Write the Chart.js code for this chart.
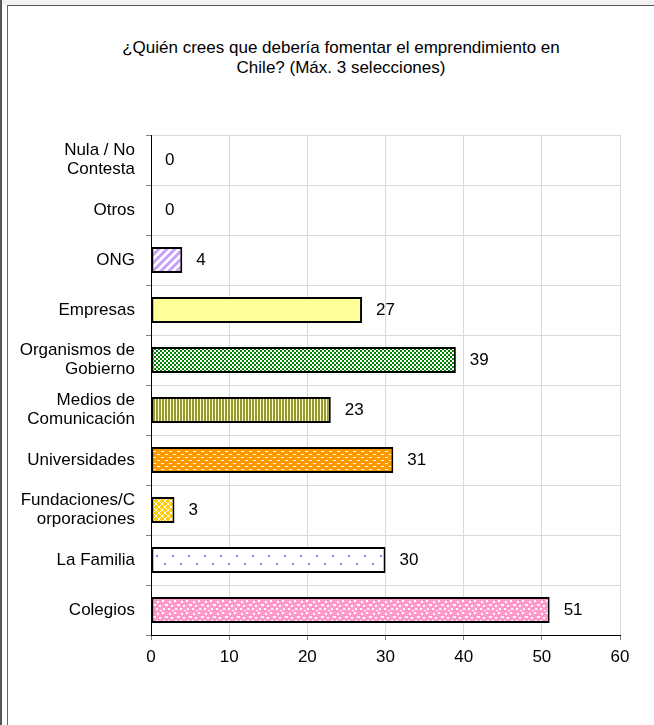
<!DOCTYPE html>
<html>
<head>
<meta charset="utf-8">
<script src="https://cdn.jsdelivr.net/npm/chart.js@4.4.1/dist/chart.umd.min.js"></script>
<style>
body { margin: 0; background: #fff; }
#wrap { position: relative; width: 654px; height: 725px; overflow: hidden; }
.ln { position: absolute; }
canvas { position: absolute; left: 0; top: 0; }
#titulo { position: absolute; left: 41px; width: 600px; top: 38px; text-align: center;
          font: 17px/20px 'Liberation Sans', Arial, sans-serif; color: #000; }
</style>
</head>
<body>
<div id="wrap">
  <div class="ln" style="left:0;top:0;width:2px;height:725px;background:#555"></div>
  <div class="ln" style="left:2px;top:0;width:652px;height:5px;background:#f2f2f2"></div>
  <div class="ln" style="left:7px;top:5px;width:647px;height:1px;background:#555"></div>
  <div class="ln" style="left:7px;top:5px;width:1px;height:720px;background:#666"></div>
  <div id="titulo"></div>
  <canvas id="chart" width="654" height="725"></canvas>
</div>
<script>
var Categorias = [["Nula / No", "Contesta"], "Otros", "ONG", "Empresas", ["Organismos de", "Gobierno"],
                  ["Medios de", "Comunicación"], "Universidades", ["Fundaciones/C", "orporaciones"], "La Familia", "Colegios"];
var Valores = [0, 0, 4, 27, 39, 23, 31, 3, 30, 51];
var Ticks = [0, 10, 20, 30, 40, 50, 60];
var Titulo = ["¿Quién crees que debería fomentar el emprendimiento en", "Chile? (Máx. 3 selecciones)"];

document.getElementById("titulo").innerHTML = Titulo.join("<br>");

Chart.defaults.font.family = "'Liberation Sans', Arial, sans-serif";
Chart.defaults.font.size = 17;
Chart.defaults.color = "#000";

var ctx = document.getElementById("chart").getContext("2d");

// little tiles used as fill patterns (Excel style)
function trama(w, h, fondo, color, dibujo) {
  var c = document.createElement("canvas");
  c.width = w; c.height = h;
  var g = c.getContext("2d");
  g.fillStyle = fondo; g.fillRect(0, 0, w, h);
  g.fillStyle = color; g.strokeStyle = color;
  dibujo(g);
  return ctx.createPattern(c, "repeat");
}

var Rellenos = [
  "#ffffff",
  "#ffffff",
  trama(8, 8, "#ffffff", "#c8a0f8", function (g) {
    g.lineWidth = 3;
    g.beginPath();
    g.moveTo(-2, 10); g.lineTo(10, -2);
    g.moveTo(-6, 6); g.lineTo(6, -6);
    g.moveTo(2, 14); g.lineTo(14, 2);
    g.stroke();
  }),
  "#ffff99",
  trama(4, 4, "#008000", "#ffffff", function (g) {
    g.fillRect(0, 0, 2, 2);
    g.fillRect(2, 2, 2, 2);
  }),
  trama(3, 1, "#ffffcc", "#999933", function (g) {
    g.fillRect(0, 0, 2, 1);
  }),
  trama(8, 6, "#ff9900", "#ffffff", function (g) {
    g.fillRect(1, 1, 3, 1);
    g.fillRect(5, 4, 3, 1);
  }),
  trama(6, 6, "#ffcc00", "#ffffff", function (g) {
    for (var i = 0; i < 6; i++) { g.fillRect(i, i, 1, 1); g.fillRect(i, 5 - i, 1, 1); }
  }),
  trama(16, 16, "#ffffff", "#6c8fd8", function (g) {
    g.fillRect(4, 3, 2, 2);
    g.fillRect(12, 11, 2, 2);
  }),
  trama(12, 12, "#ff99cc", "#ffffff", function (g) {
    g.fillRect(1, 1, 2, 2); g.fillRect(6, 0, 2, 2); g.fillRect(9, 4, 3, 2);
    g.fillRect(3, 5, 2, 2); g.fillRect(0, 8, 2, 2); g.fillRect(7, 8, 2, 2);
    g.fillRect(4, 10, 2, 1);
  })
];

// value labels to the right of each bar
var etiquetas = {
  id: "etiquetas",
  afterDatasetsDraw: function (chart) {
    var c = chart.ctx;
    var meta = chart.getDatasetMeta(0);
    c.save();
    c.font = "17px 'Liberation Sans', Arial, sans-serif";
    c.fillStyle = "#000";
    c.textAlign = "left";
    c.textBaseline = "middle";
    meta.data.forEach(function (bar, i) {
      c.fillText(String(Valores[i]), bar.x + 14, bar.y);
    });
    c.restore();
  }
};

new Chart(ctx, {
  type: "bar",
  data: {
    labels: Categorias,
    datasets: [{
      data: Valores,
      backgroundColor: Rellenos,
      borderColor: "#000",
      borderWidth: 2,
      borderSkipped: false,
      barPercentage: 0.52,
      categoryPercentage: 1
    }]
  },
  options: {
    indexAxis: "y",
    responsive: false,
    animation: false,
    layout: { padding: { left: 8, right: 34, top: 135, bottom: 60 } },
    plugins: {
      legend: { display: false },
      tooltip: { enabled: false }
    },
    scales: {
      x: {
        min: 0,
        max: 60,
        afterBuildTicks: function (s) { s.ticks = Ticks.map(function (v) { return { value: v }; }); },
        grid: { color: "#d9d9d9", tickColor: "#808080", tickLength: 5 },
        border: { color: "#000" },
        ticks: { color: "#000", padding: 7 },
        afterFit: function (s) { s.height = 30; }
      },
      y: {
        grid: { color: "#d9d9d9", tickColor: "#808080", tickLength: 5, offset: true },
        border: { color: "#000" },
        ticks: { color: "#000", padding: 11, autoSkip: false, font: { lineHeight: 1.12 } },
        afterFit: function (s) { s.width = 143; }
      }
    }
  },
  plugins: [etiquetas]
});
</script>
</body>
</html>
